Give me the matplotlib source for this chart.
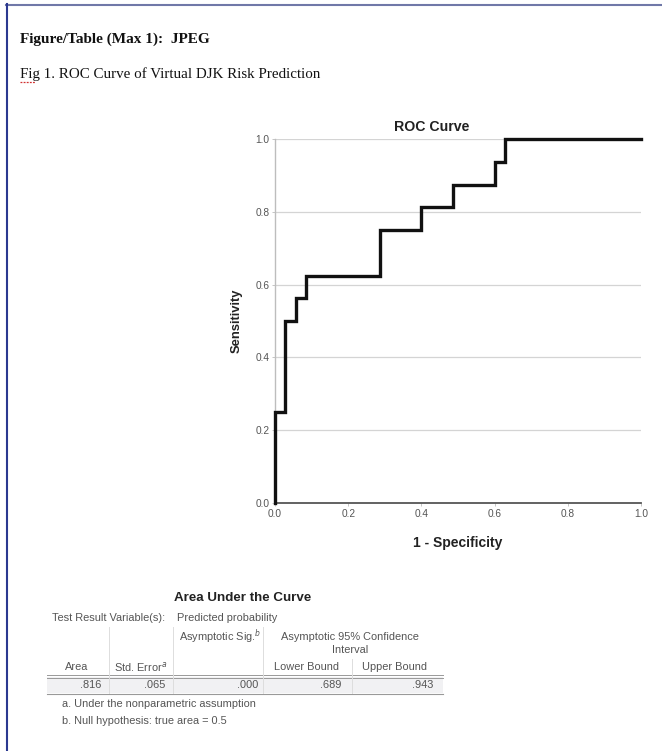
import matplotlib
matplotlib.use("Agg")
import matplotlib.pyplot as plt
from matplotlib.lines import Line2D
from matplotlib.patches import Rectangle

# ---- data ----
fpr = [0.0, 0.0, 1/35, 1/35, 2/35, 2/35, 3/35, 3/35, 10/35, 10/35, 14/35, 14/35,
       17/35, 17/35, 21/35, 21/35, 22/35, 22/35, 1.0]
tpr = [0.0, 4/16, 4/16, 8/16, 8/16, 9/16, 9/16, 10/16, 10/16, 12/16, 12/16, 13/16,
       13/16, 14/16, 14/16, 15/16, 15/16, 1.0, 1.0]
ticks = [0.0, 0.2, 0.4, 0.6, 0.8, 1.0]
tick_labels = ["0.0", "0.2", "0.4", "0.6", "0.8", "1.0"]

tbl_headers = ["Area", "Std. Error$^{a}$", "Asymptotic Sig.$^{b}$", "Lower Bound", "Upper Bound"]
tbl_values = [".816", ".065", ".000", ".689", ".943"]

W, H = 662, 751
fig = plt.figure(figsize=(W / 100, H / 100), dpi=100)
fig.patch.set_facecolor("white")

def fx(x):
    return x / W

def fy(y):
    return 1 - y / H

SANS = "Liberation Sans"
SERIF = "Liberation Serif"

# page border
fig.add_artist(Line2D([fx(6), fx(662)], [fy(4.5), fy(4.5)], color="#7078a8", lw=1.5))
fig.add_artist(Line2D([fx(6.5), fx(6.5)], [fy(4), fy(751)], color="#2b3990", lw=1.5))

# header texts
fig.text(fx(20), fy(39), "Figure/Table (Max 1):  JPEG", family=SERIF, weight="bold",
         fontsize=11, va="center", ha="left", color="#111")
fig.text(fx(20), fy(74), "Fig 1. ROC Curve of Virtual DJK Risk Prediction", family=SERIF,
         fontsize=10.8, va="center", ha="left", color="#111")
fig.add_artist(Line2D([fx(20), fx(35)], [fy(82), fy(82)], color="#d03030", lw=0.9, ls=(0, (1.5, 1))))

# ---- ROC axes ----
ax = fig.add_axes([fx(275), fy(503), fx(641) - fx(275), fy(139) - fy(503)])
ax.set_xlim(0, 1)
ax.set_ylim(0, 1)
for y in ticks[1:]:
    ax.axhline(y, color="#d4d4d4", lw=0.9, zorder=1)
ax.plot(fpr, tpr, color="#111111", lw=2.4, solid_joinstyle="miter", zorder=3, clip_on=False)
ax.set_xticks(ticks)
ax.set_xticklabels(tick_labels)
ax.set_yticks(ticks)
ax.set_yticklabels(tick_labels)
ax.tick_params(axis="both", length=2, width=0.6, color="#bbbbbb", labelsize=7.3,
               labelcolor="#555555", pad=2)
for lbl in ax.get_xticklabels() + ax.get_yticklabels():
    lbl.set_family(SANS)
for s in ["top", "right"]:
    ax.spines[s].set_visible(False)
ax.spines["left"].set_color("#bdbdbd")
ax.spines["left"].set_linewidth(1.0)
ax.spines["bottom"].set_color("#555555")
ax.spines["bottom"].set_linewidth(1.3)
ax.set_facecolor("white")

fig.text(fx(432), fy(127), "ROC Curve", family=SANS, weight="bold", fontsize=10.2,
         ha="center", va="center", color="#222")
fig.text(fx(458), fy(543), "1 - Specificity", family=SANS, weight="bold", fontsize=10,
         ha="center", va="center", color="#222")
fig.text(fx(237), fy(321), "Sensitivity", family=SANS, weight="bold", fontsize=9.4,
         ha="center", va="center", rotation=90, color="#222")

# ---- table ----
TC = "#555555"
fs = 7.9
fig.text(fx(243), fy(598), "Area Under the Curve", family=SANS, weight="bold", fontsize=9.6,
         ha="center", va="center", color="#222")
fig.text(fx(52), fy(618), "Test Result Variable(s):", family=SANS, fontsize=fs,
         ha="left", va="center", color=TC)
fig.text(fx(177), fy(618), "Predicted probability", family=SANS, fontsize=fs,
         ha="left", va="center", color=TC)

# header row
fig.text(fx(77), fy(667), tbl_headers[0], family=SANS, fontsize=fs, ha="center", va="center", color=TC)
fig.text(fx(141), fy(667), tbl_headers[1], family=SANS, fontsize=fs, ha="center", va="center", color=TC)
fig.text(fx(220), fy(637), tbl_headers[2], family=SANS, fontsize=fs, ha="center", va="center", color=TC)
fig.text(fx(350), fy(637), "Asymptotic 95% Confidence", family=SANS, fontsize=fs,
         ha="center", va="center", color=TC)
fig.text(fx(350), fy(650), "Interval", family=SANS, fontsize=fs, ha="center", va="center", color=TC)
fig.text(fx(306), fy(667), tbl_headers[3], family=SANS, fontsize=fs, ha="center", va="center", color=TC)
fig.text(fx(395), fy(667), tbl_headers[4], family=SANS, fontsize=fs, ha="center", va="center", color=TC)

# value row background
fig.add_artist(Rectangle((fx(47), fy(693)), fx(443) - fx(47), fy(677) - fy(693),
                         transform=fig.transFigure, facecolor="#f1f1f3", edgecolor="none"))
val_right = [101, 165, 258, 341, 433]
for xr, v in zip(val_right, tbl_values):
    fig.text(fx(xr), fy(685), v, family=SANS, fontsize=fs, ha="right", va="center", color=TC)

# lines
fig.add_artist(Line2D([fx(47), fx(443)], [fy(675), fy(675)], color="#999999", lw=0.7))
fig.add_artist(Line2D([fx(47), fx(443)], [fy(677.5), fy(677.5)], color="#999999", lw=0.7))
fig.add_artist(Line2D([fx(47), fx(443)], [fy(693.5), fy(693.5)], color="#999999", lw=0.8))
for xv, ytop in [(109, 627), (173, 627), (263, 627), (352, 659)]:
    fig.add_artist(Line2D([fx(xv), fx(xv)], [fy(ytop), fy(693)], color="#dddddd", lw=0.7))

fig.text(fx(62), fy(704), "a. Under the nonparametric assumption", family=SANS, fontsize=fs,
         ha="left", va="center", color=TC)
fig.text(fx(62), fy(721), "b. Null hypothesis: true area = 0.5", family=SANS, fontsize=fs,
         ha="left", va="center", color=TC)

fig.savefig("out.png", dpi=100, facecolor="white")
